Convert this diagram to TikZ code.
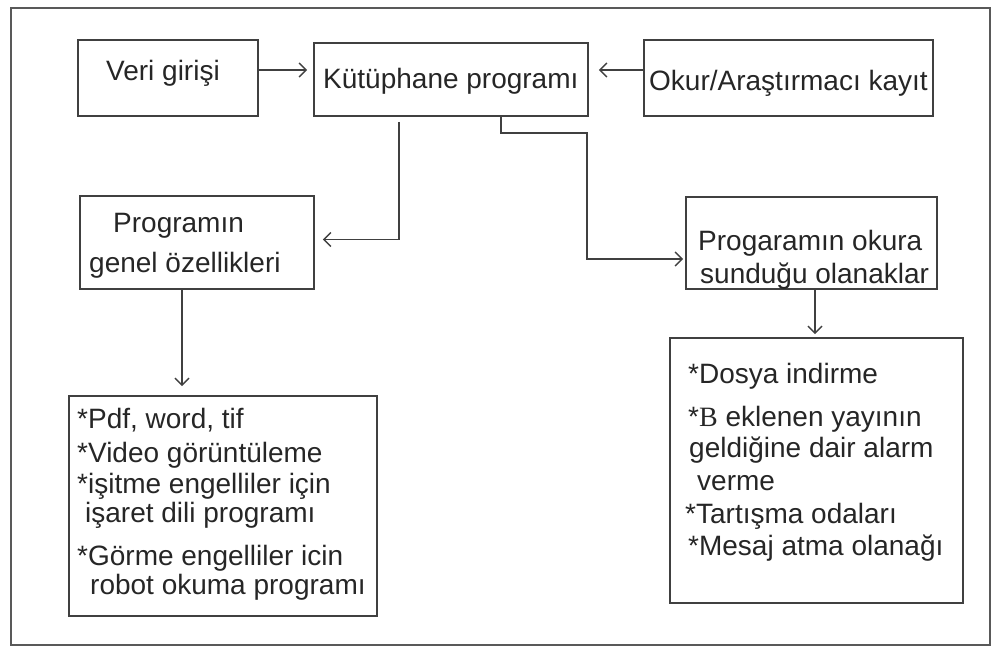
\documentclass[tikz,border=0pt]{standalone}
\usepackage{fontspec}
\setmainfont{Liberation Sans}
\newfontfamily\serifB{Liberation Serif}
\usetikzlibrary{arrows.meta}

\tikzset{
  kutu/.style={draw=black!75, line width=1.6pt, inner sep=0pt},
  yazi/.style={anchor=base west, inner sep=0pt, font=\fontsize{28}{33}\selectfont, text=black!85},
  ok/.style={draw=black!75, line width=1.5pt, -{Straight Barb[length=7pt,width=14pt]}},
}

\begin{document}
\begin{tikzpicture}[x=1pt, y=-1pt]  % 1 birim = 1 piksel, y aşağı doğru

  % tuval: resim 991x648
  \useasboundingbox (0,0) rectangle (991,648);

  % dış çerçeve
  \draw[black!65, line width=1.6pt] (11,8) rectangle (990,645);

  % üst sıradaki kutular
  \node[kutu, minimum width=180pt, minimum height=76pt] (veri) at (168,78) {};
  \node[kutu, minimum width=274pt, minimum height=73pt] (kutup) at (451,79.5) {};
  \node[kutu, minimum width=289pt, minimum height=76pt] (okur) at (788.5,78) {};

  % orta sıradaki kutular
  \node[kutu, minimum width=234pt, minimum height=93pt] (prog) at (197,242.5) {};
  \node[kutu, minimum width=251pt, minimum height=92pt] (olan) at (811.5,243) {};

  % alt sıradaki kutular
  \node[kutu, minimum width=308pt, minimum height=220pt] (liste1) at (223,506) {};
  \node[kutu, minimum width=293pt, minimum height=265pt] (liste2) at (816.5,470.5) {};

  % yazılar
  \node[yazi] (veri-t) at (106,80) {Veri girişi};
  \node[yazi] (kutup-t) at (323,88) {Kütüphane programı};
  \node[yazi] (okur-t) at (649,90) {Okur/Araştırmacı kayıt};
  \node[yazi] (prog-t1) at (113,232) {Programın};
  \node[yazi] (prog-t2) at (89,272) {genel özellikleri};
  \node[yazi] (olan-t1) at (698,250) {Progaramın okura};
  \node[yazi] (olan-t2) at (700,283) {sunduğu olanaklar};

  % sol alt liste
  \node[yazi] (l1-a) at (77,428) {*Pdf, word, tif};
  \node[yazi] (l1-b) at (77,462) {*Video görüntüleme};
  \node[yazi] (l1-c) at (77,493) {*işitme engelliler için};
  \node[yazi] (l1-d) at (85,522) {işaret dili programı};
  \node[yazi] (l1-e) at (77,565) {*Görme engelliler icin};
  \node[yazi] (l1-f) at (90,594) {robot okuma programı};

  % sağ alt liste
  \node[yazi] (l2-a) at (688,383) {*Dosya indirme};
  \node[yazi] (l2-b) at (688,426) {*{\serifB B} eklenen yayının};
  \node[yazi] (l2-c) at (689,457) {geldiğine dair alarm};
  \node[yazi] (l2-d) at (697,490) {verme};
  \node[yazi] (l2-e) at (685,523) {*Tartışma odaları};
  \node[yazi] (l2-f) at (688,555) {*Mesaj atma olanağı};

  % oklar
  \draw[ok, shorten >=6pt] ([yshift=8pt]veri.east) -- ([yshift=8pt]veri.east -| kutup.west);
  \draw[ok, shorten >=10pt] ([yshift=8pt]okur.west) -- ([yshift=8pt]okur.west -| kutup.east);

  \draw[ok, shorten >=8pt] ([xshift=-52pt, yshift=-5pt]kutup.south) |- ([yshift=3pt]prog.east);

  \coordinate (dirsek) at (587,133);
  \draw[ok, shorten >=2pt] ([xshift=50pt]kutup.south) |- (dirsek) |- ([yshift=-16pt]olan.west);

  \draw[ok, shorten >=9pt] ([xshift=-15pt]prog.south) -- ([xshift=-15pt]prog.south |- liste1.north);
  \draw[ok, shorten >=3pt] ([xshift=3.5pt]olan.south) -- ([xshift=3.5pt]olan.south |- liste2.north);

\end{tikzpicture}
\end{document}
